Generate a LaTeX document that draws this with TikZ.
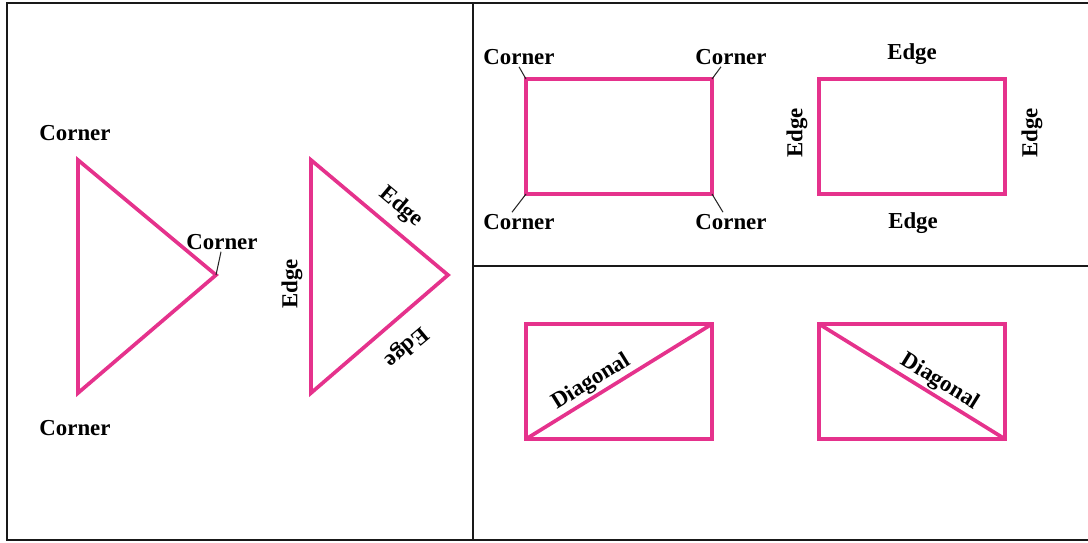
\documentclass[tikz,border=0pt]{standalone}
\usepackage{fontspec}
\setmainfont{Liberation Serif}
\definecolor{shapepink}{RGB}{229,50,140}
\begin{document}
\begin{tikzpicture}[x=0.02cm,y=-0.02cm,
    outline/.style={draw=shapepink,line width=2.1pt},
    lbl/.style={font=\fontsize{13}{15}\selectfont\bfseries,inner sep=1pt},
    leader/.style={draw=black!85,line width=0.6pt},
    frame/.style={draw=black!90,line width=1.4pt}]
    \def\w{186}
    \def\h{115}

    \useasboundingbox (0,0) rectangle (1088,542);

    % panels
    \draw[frame] (1088,3) -- (7,3) -- (7,540) -- (1088,540);
    \draw[frame] (473,3) -- (473,540);
    \draw[frame] (473,266) -- (1088,266);

    % corners of a triangle
    \coordinate (ta) at (78,160);
    \coordinate (tb) at (78,393);
    \coordinate (tc) at (216,275);
    \draw[outline] (ta) -- (tc) -- (tb) -- cycle;

    \node[lbl] (ctop) at (75,133) {Corner};
    \node[lbl] (cbot) at (75,428) {Corner};
    \node[lbl] (cmid) at (222,242) {Corner};
    \draw[leader] (tc) -- ([xshift=-0.02cm]cmid.south);

    % edges of a triangle
    \coordinate (ua) at (311,160);
    \coordinate (ub) at (311,393);
    \coordinate (uc) at (448,275);
    \draw[outline] (ua) -- (uc) -- (ub) -- cycle;

    \node[lbl,rotate=90] (eleft) at (292,284) {Edge};
    \node[lbl,rotate=-40] (eup) at (401,207) {Edge};
    \node[lbl,rotate=220] (elow) at (406,347) {Edge};

    % corners of a rectangle
    \coordinate (ra) at (526,79);
    \draw[outline] (ra) rectangle ++(\w,\h);
    \coordinate (rb) at (526+\w,79);
    \coordinate (rc) at (526,79+\h);
    \coordinate (rd) at (526+\w,79+\h);

    \node[lbl] (cnw) at (519,57) {Corner};
    \node[lbl] (cne) at (731,57) {Corner};
    \node[lbl] (csw) at (519,222) {Corner};
    \node[lbl] (cse) at (731,222) {Corner};
    \draw[leader] (ra) -- (cnw.south);
    \draw[leader] (rb) -- ([xshift=-0.2cm]cne.south);
    \draw[leader] (rc) -- ([xshift=-0.14cm]csw.north);
    \draw[leader] (rd) -- ([xshift=-0.16cm]cse.north);

    % edges of a rectangle
    \coordinate (sa) at (819,79);
    \draw[outline] (sa) rectangle ++(\w,\h);

    \node[lbl] (etop) at (912,54) {Edge};
    \node[lbl] (ebot) at (913,223) {Edge};
    \node[lbl,rotate=90] (eleft2) at (797,133) {Edge};
    \node[lbl,rotate=90] (eright2) at (1032,133) {Edge};

    % diagonals
    \coordinate (da) at (526,324);
    \coordinate (db) at (526,324+\h);
    \draw[outline] (da) rectangle ++(\w,\h);
    \draw[outline] (db) -- node[lbl,sloped,above,pos=0.39] (dg1) {Diagonal} ++(\w,-\h);

    \coordinate (dc) at (819,324);
    \draw[outline] (dc) rectangle ++(\w,\h);
    \draw[outline] (dc) -- node[lbl,sloped,above,pos=0.61] (dg2) {Diagonal} ++(\w,\h);
\end{tikzpicture}
\end{document}
